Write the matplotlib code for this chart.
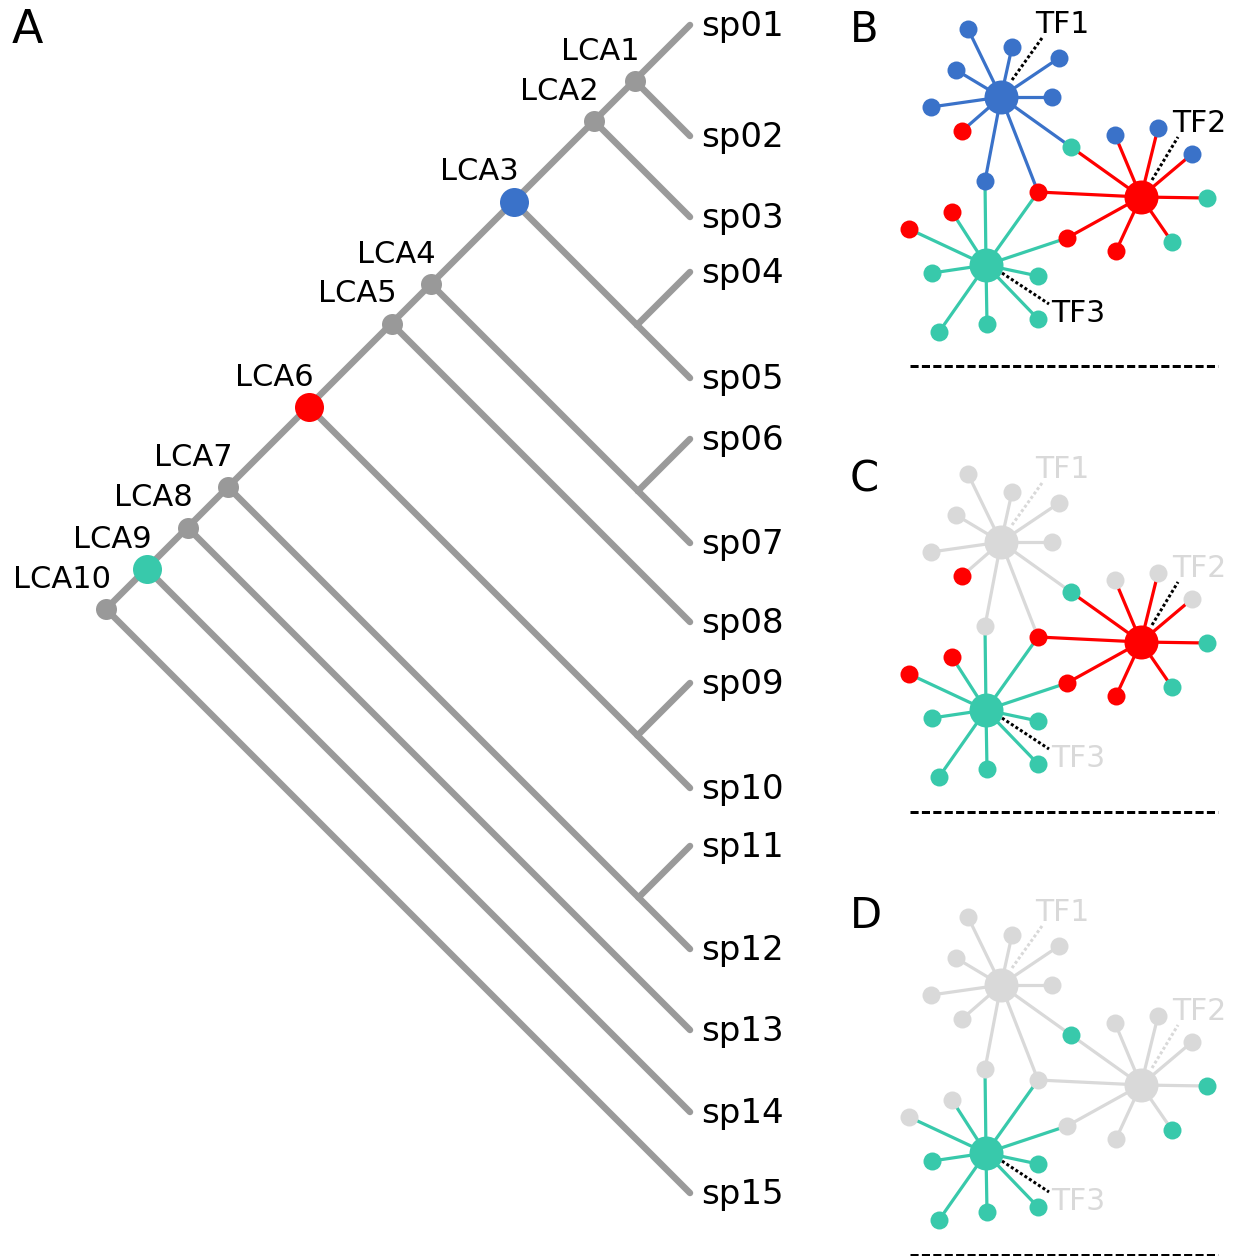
import matplotlib
matplotlib.use("Agg")
import matplotlib.pyplot as plt

# ---------------- data: panel A (species tree) ----------------
leaf_names = ["sp01", "sp02", "sp03", "sp04", "sp05", "sp06", "sp07", "sp08",
              "sp09", "sp10", "sp11", "sp12", "sp13", "sp14", "sp15"]
leaf_pos = [25, 136, 217, 272, 378, 439, 543, 622, 683, 788, 846, 949, 1030, 1112, 1193]

# (node, upper child, lower child)
internal_nodes = [
    ("LCA1", "sp01", "sp02"),
    ("LCA2", "LCA1", "sp03"),
    ("n45", "sp04", "sp05"),
    ("LCA3", "LCA2", "n45"),
    ("n67", "sp06", "sp07"),
    ("LCA4", "LCA3", "n67"),
    ("LCA5", "LCA4", "sp08"),
    ("n910", "sp09", "sp10"),
    ("LCA6", "LCA5", "n910"),
    ("n1112", "sp11", "sp12"),
    ("LCA7", "LCA6", "n1112"),
    ("LCA8", "LCA7", "sp13"),
    ("LCA9", "LCA8", "sp14"),
    ("LCA10", "LCA9", "sp15"),
]
lca_highlight = {"LCA3": "b", "LCA6": "r", "LCA9": "t"}

# ---------------- data: panels B-D (regulatory network) ----------------
tf_names = ["TF1", "TF2", "TF3"]
tf_x = [1001, 1141, 986]
tf_y = [97, 197, 265]
tf_cat = ["b", "r", "t"]

gene_x = [968, 1012, 1059, 956, 1052, 931, 962, 1071, 985, 1038,
          1115, 1158, 1192, 1207, 1172, 1116, 1067,
          952, 909, 932, 1038, 939, 987, 1038]
gene_y = [29, 47, 58, 70, 97, 107, 131, 147, 181, 192,
          135, 128, 154, 198, 242, 251, 238,
          212, 229, 273, 276, 332, 324, 319]
gene_cat = ["b", "b", "b", "b", "b", "b", "r", "t", "b", "r",
            "b", "b", "b", "t", "t", "r", "r",
            "r", "r", "t", "t", "t", "t", "t"]
gene_links = [[0], [0], [0], [0], [0], [0], [0], [0, 1], [0, 2], [0, 1, 2],
              [1], [1], [1], [1], [1], [1], [1, 2],
              [2], [2], [2], [2], [2], [2], [2]]

panel_letters = ["B", "C", "D"]
panel_active = [{"b", "r", "t"}, {"r", "t"}, {"t"}]

# ---------------- styles / layout ----------------
COL = {"b": "#3a72c9", "r": "#ff0000", "t": "#38c9ab"}
LGRAY = "#d9d9d9"
TREE = "#9a9a9a"
W, H, DPI = 1238, 1256, 100
PX = 72.0 / DPI  # points per pixel

fig = plt.figure(figsize=(W / DPI, H / DPI), dpi=DPI)
ax = fig.add_axes([0, 0, 1, 1])
ax.set_xlim(0, W)
ax.set_ylim(H, 0)
ax.axis("off")

# ---------- Panel A ----------
TIP_X = 690
pos = {n: (TIP_X, y) for n, y in zip(leaf_names, leaf_pos)}
for node, a, b in internal_nodes:
    (xa, ya), (xb, yb) = pos[a], pos[b]
    x = (xa + xb - (yb - ya)) / 2.0
    y = ya + (xa - x)
    pos[node] = (x, y)

for node, a, b in internal_nodes:
    x, y = pos[node]
    for c in (a, b):
        cx, cy = pos[c]
        ax.plot([x, cx], [y, cy], color=TREE, lw=6.5 * PX,
                solid_capstyle="round", zorder=1)

for node, a, b in internal_nodes:
    if not node.startswith("LCA"):
        continue
    x, y = pos[node]
    if node in lca_highlight:
        ax.plot(x, y, "o", ms=29 * PX, color=COL[lca_highlight[node]], mec="none", zorder=3)
    else:
        ax.plot(x, y, "o", ms=21 * PX, color="#999999", mec="none", zorder=3)
    ax.text(x + 5, y - 21, node, ha="right", va="baseline", fontsize=22,
            color="black", zorder=4)

for n, y in zip(leaf_names, leaf_pos):
    ax.text(701, y + 11, n, ha="left", va="baseline", fontsize=24.5, color="black")

ax.text(12, 43, "A", ha="left", va="baseline", fontsize=33, color="black")

# ---------- Panels B-D ----------
offsets = [0, 445, 888]
letter_base = [42, 491, 928]
tf_label_xy = [(1035, 33), (1172, 132), (1051, 322)]
tf_dot = [((1012, 80), (1042, 38)), ((1152, 180), (1178, 137)), ((1002, 273), (1049, 304))]
sep_y = [366, 812, 1255]

for p, (off, letter, active) in enumerate(zip(offsets, panel_letters, panel_active)):
    def c_of(cat):
        return COL[cat] if cat in active else LGRAY

    # edges
    for gx, gy, links in zip(gene_x, gene_y, gene_links):
        for h in links:
            ax.plot([tf_x[h], gx], [tf_y[h] + off, gy + off],
                    color=c_of(tf_cat[h]), lw=3.2 * PX, zorder=1,
                    solid_capstyle="butt")
    # dotted pointer lines
    for h in range(3):
        (x0, y0), (x1, y1) = tf_dot[h]
        dc = "black" if tf_cat[h] in active else LGRAY
        ax.plot([x0, x1], [y0 + off, y1 + off], color=dc, lw=3 * PX,
                linestyle=(0, (1, 0.8)), zorder=2)
    # target genes
    for gx, gy, cat in zip(gene_x, gene_y, gene_cat):
        ax.plot(gx, gy + off, "o", ms=18 * PX, color=c_of(cat), mec="none", zorder=3)
    # TF hubs
    for h in range(3):
        ax.plot(tf_x[h], tf_y[h] + off, "o", ms=34 * PX, color=c_of(tf_cat[h]),
                mec="none", zorder=3)
    # TF labels
    tcol = "black" if p == 0 else LGRAY
    for h in range(3):
        lx, ly = tf_label_xy[h]
        ax.text(lx, ly + off, tf_names[h], ha="left", va="baseline",
                fontsize=21.5, color=tcol, zorder=4)
    # separator
    ax.plot([910, 1218], [sep_y[p], sep_y[p]], color="black", lw=3 * PX,
            linestyle=(0, (2.7, 1.1)), zorder=1)
    ax.text(850, letter_base[p], letter, ha="left", va="baseline",
            fontsize=30, color="black")

fig.savefig("out.png", dpi=DPI, facecolor="white")
